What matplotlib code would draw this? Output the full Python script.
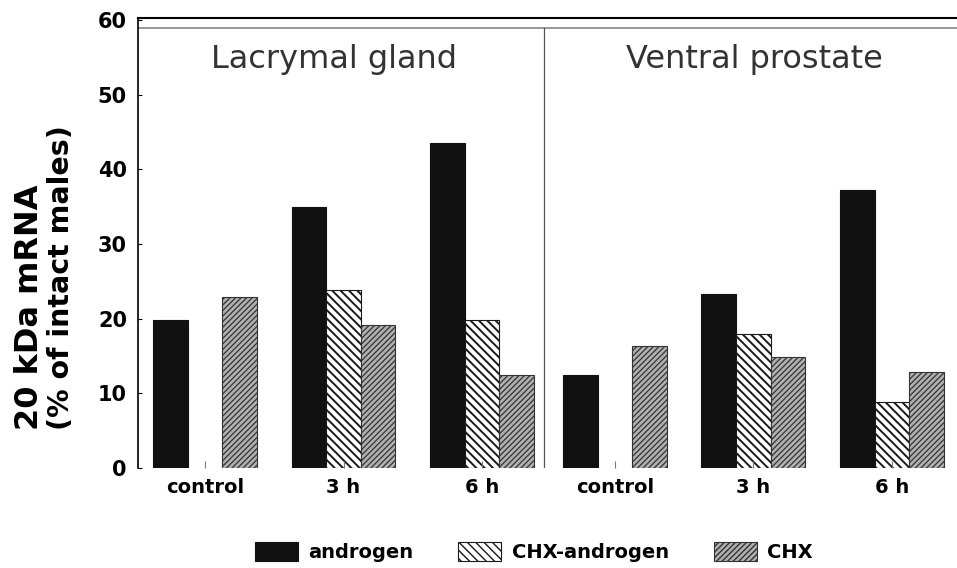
import numpy as np
import matplotlib
matplotlib.use('Agg')
import matplotlib.pyplot as plt
from matplotlib.patches import Patch

# valores (% dos machos intactos)
grupos = ['control', '3 h', '6 h']
paineis = ['Lacrymal gland', 'Ventral prostate']
series = ['androgen', 'CHX-androgen', 'CHX']
rotulo_y = ['20 kDa mRNA', '(% of intact males)']

lacrimal_androgen = [19.8, 35.0, 43.5]
lacrimal_chx_androgen = [np.nan, 23.8, 19.8]
lacrimal_chx = [22.9, 19.2, 12.5]

prostata_androgen = [12.4, 23.3, 37.3]
prostata_chx_androgen = [np.nan, 17.9, 8.9]
prostata_chx = [16.3, 14.9, 12.8]

plt.rcParams['font.family'] = ['DejaVu Sans']

fig = plt.figure(figsize=(9.57, 5.68), dpi=100)
ax = fig.add_axes([138 / 957, (568 - 468) / 568, 1 - 138 / 957, (468 - 18) / 568])

estilos = [
    dict(facecolor='#111111', edgecolor='#111111', hatch=None),
    dict(facecolor='white', edgecolor='#1a1a1a', hatch='\\\\\\\\'),
    dict(facecolor='#b0b0b0', edgecolor='#333333', hatch='//////'),
]
espessura_hachura = [1.0, 1.4, 0.9]

largura = 0.25
base_paineis = [0.0, 2.96]
dados = [
    [lacrimal_androgen, lacrimal_chx_androgen, lacrimal_chx],
    [prostata_androgen, prostata_chx_androgen, prostata_chx],
]

centros = []
for base, valores_painel in zip(base_paineis, dados):
    x = base + np.arange(len(grupos))
    centros.extend(x)
    for i, (valores, est) in enumerate(zip(valores_painel, estilos)):
        with plt.rc_context({'hatch.linewidth': espessura_hachura[i]}):
            ax.bar(x + (i - 1) * largura, valores, width=largura, linewidth=0.8, **est)

ax.set_xlim(-0.484, 5.43)
ax.set_ylim(0, 60.3)

# linha cinza de cima e divisória entre os painéis
ax.axhline(58.9, color='#888888', linewidth=1.2)
ax.plot([2.45, 2.45], [0, 58.9], color='#555555', linewidth=0.9)

for centro, titulo in zip([0.93, 3.97], paineis):
    ax.text(centro, 53.6, titulo, ha='center', va='baseline', fontsize=23, color='#333333')

ax.set_xticks(centros)
ax.set_xticklabels(grupos * 2, fontsize=14, fontweight='bold')
ax.tick_params(axis='x', direction='in', length=5, width=0.8, color='#777777', pad=7)
ax.set_yticks(range(0, 61, 10))
ax.tick_params(axis='y', direction='in', length=3, width=0.8, labelsize=15, pad=8)
for lbl in ax.get_yticklabels():
    lbl.set_fontweight('bold')

ax.spines['right'].set_visible(False)
ax.spines['bottom'].set_visible(False)
ax.spines['left'].set_linewidth(1.2)
ax.spines['top'].set_linewidth(1.5)

# rótulo do eixo y: duas linhas que começam na mesma altura
for xpos, texto, tam in zip([30 / 957, 61 / 957], rotulo_y, [23, 20.5]):
    fig.text(xpos, (568 - 430) / 568, texto, rotation=90, ha='center', va='bottom',
             fontsize=tam, fontweight='bold')

handles = []
for est, lw in zip(estilos, espessura_hachura):
    with plt.rc_context({'hatch.linewidth': lw}):
        handles.append(Patch(linewidth=0.8, **est))
fig.legend(handles, series, loc='center', bbox_to_anchor=(0.558, 0.028), ncol=3,
           frameon=False, prop={'size': 14, 'weight': 'bold'}, handlelength=2.2,
           handleheight=1.1, handletextpad=0.55, columnspacing=2.3)

fig.savefig('out.png', dpi=100)
